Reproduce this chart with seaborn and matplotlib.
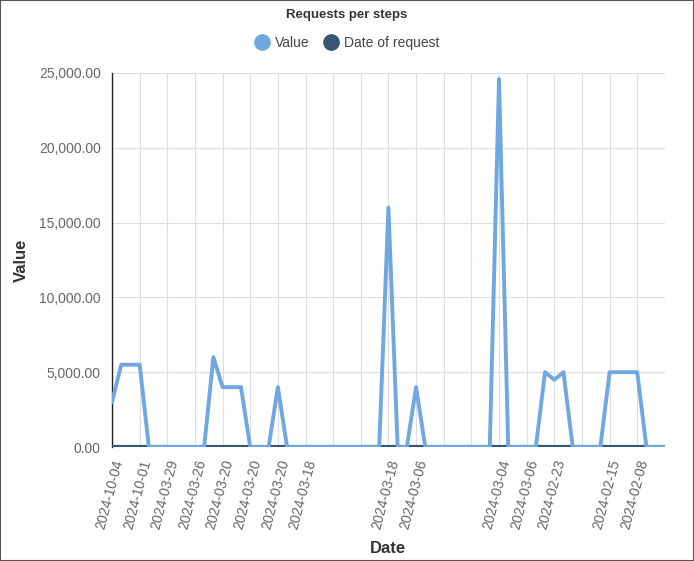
import matplotlib
matplotlib.use("Agg")
import matplotlib.pyplot as plt
import seaborn as sns
import pandas as pd
import numpy as np
from matplotlib.lines import Line2D
from matplotlib.ticker import FuncFormatter, MultipleLocator

# ---- data ----
value_series = [3000, 5500, 5500, 5500, 0, 0, 0, 0, 0, 0,
                0, 6000, 4000, 4000, 4000, 0, 0, 0, 4000, 0,
                0, 0, 0, 0, 0, 0, 0, 0, 0, 0,
                16000, 0, 0, 4000, 0, 0, 0, 0, 0, 0,
                0, 0, 24600, 0, 0, 0, 0, 5000, 4500, 5000,
                0, 0, 0, 0, 5000, 5000, 5000, 5000, 0, 0,
                0]
date_of_request = [0] * len(value_series)
tick_labels = ["2024-10-04", "2024-10-01", "2024-03-29", "2024-03-26", "2024-03-20",
               "2024-03-20", "2024-03-20", "2024-03-18", "", "",
               "2024-03-18", "2024-03-06", "", "", "2024-03-04",
               "2024-03-06", "2024-02-23", "", "2024-02-15", "2024-02-08", ""]
series_names = ["Value", "Date of request"]
colors = ["#6fa8e0", "#385573"]

sns.set_theme(style="white")
plt.rcParams['font.family'] = ['Liberation Sans', 'DejaVu Sans']

n = len(value_series)
df = pd.DataFrame({"idx": np.arange(n), "Value": value_series,
                   "Date of request": date_of_request})

fig = plt.figure(figsize=(6.94, 5.61), dpi=100)
ax = fig.add_axes([0.1614, 0.2032, 0.958 - 0.1614, 0.8699 - 0.2032])

sns.lineplot(data=df, x="idx", y="Date of request", ax=ax, color=colors[1],
             linewidth=3, zorder=3)
sns.lineplot(data=df, x="idx", y="Value", ax=ax, color=colors[0],
             linewidth=2.8, zorder=4)

ax.set_xlim(0, n - 1)
ax.set_ylim(0, 25000)
ax.yaxis.set_major_locator(MultipleLocator(5000))
ax.yaxis.set_major_formatter(FuncFormatter(lambda v, p: f"{v:,.2f}"))
ticks = np.arange(0, n, 3)
ax.set_xticks(ticks)
ax.set_xticklabels(tick_labels, rotation=75, ha="right", rotation_mode="anchor",
                   fontsize=10, color="#666666")
for lab in ax.get_yticklabels():
    lab.set_fontsize(10)
    lab.set_color("#666666")

ax.grid(True, color="#dedede", linewidth=0.8)
ax.set_axisbelow(True)
for s in ["top", "right", "bottom"]:
    ax.spines[s].set_visible(False)
ax.spines["left"].set_color("#222222")
ax.spines["left"].set_linewidth(1)
ax.tick_params(axis="both", length=6, color="#dedede", width=0.8, pad=2)

ax.set_xlabel("Date", fontsize=12, fontweight="bold", color="#333333", labelpad=7)
ax.set_ylabel("Value", fontsize=12, fontweight="bold", color="#333333", labelpad=7)

fig.text(0.5, 1 - 15 / 561, "Requests per steps", ha="center", va="center",
         fontsize=9.5, fontweight="bold", color="#333333")

handles = [Line2D([0], [0], marker="o", linestyle="none", markersize=11,
                  markerfacecolor=c, markeredgecolor=c) for c in colors]
fig.legend(handles, series_names, loc="center", bbox_to_anchor=(0.5, 1 - 43 / 561),
           ncol=2, frameon=False, fontsize=10, handletextpad=0.45, columnspacing=1.0,
           handlelength=1.0, labelcolor="#444444")

fig.patches.append(plt.Rectangle((0, 0), 1, 1, transform=fig.transFigure,
                                 fill=False, edgecolor="#555555", linewidth=1.5))

fig.savefig("out.png", dpi=100)
